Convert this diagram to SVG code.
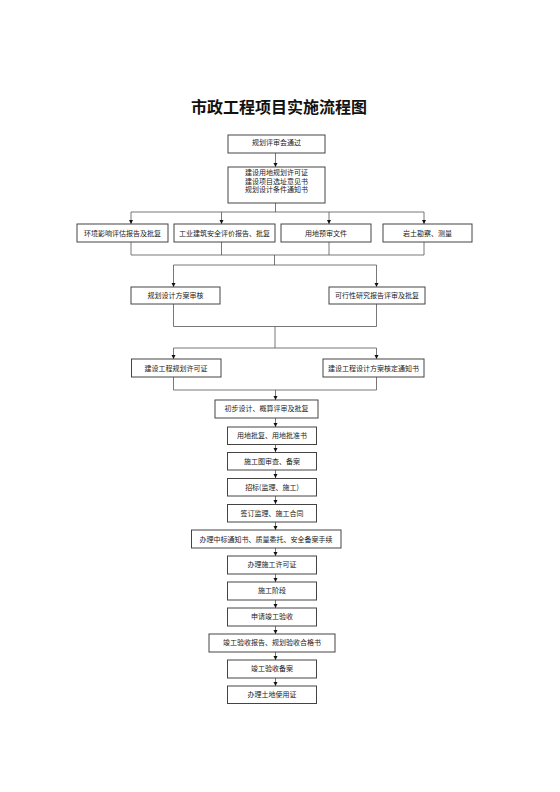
<svg xmlns="http://www.w3.org/2000/svg" width="560" height="792" viewBox="0 0 560 792">
<defs>
<marker id="ah" markerUnits="userSpaceOnUse" markerWidth="5" markerHeight="5" refX="4" refY="2" orient="auto">
<path d="M0,0 L4,2 L0,4 z" fill="#111"/>
</marker>
<style>
.b{fill:#fff;stroke:#444;stroke-width:1}
.t{font-family:"Noto Sans CJK SC","Noto Sans",sans-serif;font-size:7px;fill:#222;text-anchor:middle}
.c{fill:none;stroke:#555;stroke-width:0.8}
.a{marker-end:url(#ah)}
.title{font-family:"Noto Sans CJK SC","Noto Sans",sans-serif;font-size:16px;font-weight:bold;fill:#111;text-anchor:middle}
</style>
</defs>
<rect width="560" height="792" fill="#fff"/>
<text class="title" x="279" y="113">市政工程项目实施流程图</text>

<g id="connectors">
<path class="c a" d="M275.5,153 V167"/>
<path class="c" d="M275.5,203 V212 M131,212 H424"/>
<path class="c a" d="M131,212 V224"/>
<path class="c a" d="M221.5,212 V224"/>
<path class="c a" d="M329,212 V224"/>
<path class="c a" d="M424,212 V224"/>
<path class="c" d="M131,242 V255 M221.5,242 V255 M329,242 V255 M424,242 V255 M131,255 H424 M274.5,255 V265 M173.5,265 H376.5"/>
<path class="c a" d="M173.5,265 V287"/>
<path class="c a" d="M376.5,265 V287"/>
<path class="c" d="M173.5,304 V326.5 M376.5,304 V326.5 M173.5,326.5 H376.5 M275,326.5 V348 M173.5,348 H376.5"/>
<path class="c a" d="M173.5,348 V359"/>
<path class="c a" d="M376.5,348 V359"/>
<path class="c" d="M173.5,377 V390 M376.5,377 V390 M173.5,390 H376.5"/>
<path class="c a" d="M275.5,390 V400"/>
<path class="c a" d="M275.5,418 V427"/>
<path class="c a" d="M275.5,444.5 V452"/>
<path class="c a" d="M275.5,470 V478"/>
<path class="c a" d="M275.5,496 V504"/>
<path class="c a" d="M275.5,522 V530"/>
<path class="c a" d="M275.5,548 V556"/>
<path class="c a" d="M275.5,574 V582"/>
<path class="c a" d="M275.5,600 V608"/>
<path class="c a" d="M275.5,626 V634"/>
<path class="c a" d="M275.5,652 V660"/>
<path class="c a" d="M275.5,678 V686"/>
</g>

<g id="n1"><rect class="b" x="228" y="135" width="97" height="18"/><text class="t" x="276.5" y="145">规划评审会通过</text></g>
<g id="n2"><rect class="b" x="228" y="167" width="97" height="36"/>
<text class="t" x="276.5" y="175">建设用地规划许可证</text>
<text class="t" x="276.5" y="183.5">建设项目选址意见书</text>
<text class="t" x="276.5" y="192">规划设计条件通知书</text></g>

<g id="n3"><rect class="b" x="77" y="224" width="91" height="18"/><text class="t" x="122.5" y="235.5">环境影响评估报告及批复</text></g>
<g id="n4"><rect class="b" x="174" y="224" width="101" height="18"/><text class="t" x="224.5" y="235.5">工业建筑安全评价报告、批复</text></g>
<g id="n5"><rect class="b" x="281" y="224" width="90" height="18"/><text class="t" x="326" y="235.5">用地预审文件</text></g>
<g id="n6"><rect class="b" x="383" y="224" width="89" height="18"/><text class="t" x="427.5" y="235.5">岩土勘察、测量</text></g>

<g id="n7"><rect class="b" x="131" y="287" width="89" height="17"/><text class="t" x="175.5" y="298">规划设计方案审核</text></g>
<g id="n8"><rect class="b" x="329" y="287" width="96" height="17"/><text class="t" x="377" y="298">可行性研究报告评审及批复</text></g>

<g id="n9"><rect class="b" x="131.5" y="359" width="89.5" height="18"/><text class="t" x="176" y="370.5">建设工程规划许可证</text></g>
<g id="n10"><rect class="b" x="323" y="359" width="101" height="18"/><text class="t" x="373.5" y="370.5">建设工程设计方案核定通知书</text></g>

<g id="n11"><rect class="b" x="215" y="400" width="103" height="18"/><text class="t" x="266.5" y="411">初步设计、概算评审及批复</text></g>
<g id="n12"><rect class="b" x="227.5" y="427" width="89" height="17.5"/><text class="t" x="272" y="438">用地批复、用地批准书</text></g>
<g id="n13"><rect class="b" x="227.5" y="452.5" width="89" height="17.5"/><text class="t" x="272" y="463.5">施工图审查、备案</text></g>
<g id="n14"><rect class="b" x="227.5" y="478.5" width="89" height="17.5"/><text class="t" x="272" y="489.5">招标(监理、施工)</text></g>
<g id="n15"><rect class="b" x="227.5" y="504.5" width="89" height="17.5"/><text class="t" x="272" y="515.5">签订监理、施工合同</text></g>
<g id="n16"><rect class="b" x="191.5" y="530" width="149.5" height="18"/><text class="t" x="266" y="541.5">办理中标通知书、质量委托、安全备案手续</text></g>
<g id="n17"><rect class="b" x="227.5" y="556" width="89" height="18"/><text class="t" x="272" y="567">办理施工许可证</text></g>
<g id="n18"><rect class="b" x="227.5" y="582" width="89" height="18"/><text class="t" x="272" y="593">施工阶段</text></g>
<g id="n19"><rect class="b" x="227.5" y="608" width="89" height="18"/><text class="t" x="272" y="619">申请竣工验收</text></g>
<g id="n20"><rect class="b" x="209" y="634" width="126" height="18"/><text class="t" x="272" y="645">竣工验收报告、规划验收合格书</text></g>
<g id="n21"><rect class="b" x="227.5" y="660" width="89" height="18"/><text class="t" x="272" y="671">竣工验收备案</text></g>
<g id="n22"><rect class="b" x="227.5" y="686" width="89" height="17.5"/><text class="t" x="272" y="697">办理土地使用证</text></g>
</svg>
